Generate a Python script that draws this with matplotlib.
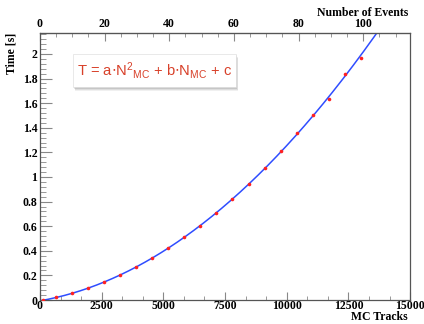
import numpy as np
import matplotlib
matplotlib.use("Agg")
import matplotlib.pyplot as plt
from matplotlib.patches import Rectangle
from matplotlib.ticker import MultipleLocator

# measured points: MC tracks vs processing time
tracks = [130, 650, 1300, 1950, 2600, 3250, 3900, 4550, 5200, 5850, 6500,
          7150, 7800, 8450, 9100, 9750, 10400, 11050, 11700, 12350, 13000]
times = [0.003, 0.022, 0.054, 0.095, 0.144, 0.203, 0.266, 0.344, 0.42, 0.51, 0.60,
         0.705, 0.82, 0.94, 1.07, 1.21, 1.36, 1.50, 1.63, 1.84, 1.97]
tracks_per_event = 131.0

coef = np.polyfit(tracks, times, 2)
xf = np.linspace(0, 14000, 300)
yf = np.polyval(coef, xf)

tickfont = dict(family="Liberation Serif", weight="bold", size=8.5)

fig = plt.figure(figsize=(4.24, 3.24), dpi=100)
ax = fig.add_axes([0.0943, 0.074, 0.873, 0.824])
ax.plot(xf, yf, color="#2f4dff", lw=1.1, zorder=2)
ax.plot(tracks, times, "o", color="#ff2020", ms=2.6, mec="none", zorder=3)

ax.set_xlim(0, 15000)
ax.set_ylim(0, 2.17)
ax.xaxis.set_major_locator(MultipleLocator(2500))
ax.xaxis.set_minor_locator(MultipleLocator(2500 / 3))
ax.yaxis.set_major_locator(MultipleLocator(0.2))
ax.yaxis.set_minor_locator(MultipleLocator(0.04))
ax.tick_params(axis="x", which="both", direction="in", top=False, color="#888888", pad=0)
ax.tick_params(axis="x", which="major", length=6)
ax.tick_params(axis="x", which="minor", length=3)
ax.tick_params(axis="y", which="both", direction="in", right=False, color="#888888", pad=2)
ax.tick_params(axis="y", which="major", length=8.5)
ax.tick_params(axis="y", which="minor", length=4.5)
ax.set_yticks(np.arange(0, 2.01, 0.2))
ax.set_yticklabels(["0", "0.2", "0.4", "0.6", "0.8", "1", "1.2", "1.4", "1.6", "1.8", "2"], **tickfont)
ax.set_xticks(np.arange(0, 15001, 2500))
ax.set_xticklabels([str(v) for v in range(0, 15001, 2500)], **tickfont)
for s in ax.spines.values():
    s.set_color("#555555")
    s.set_linewidth(0.9)

top = ax.secondary_xaxis("top", functions=(lambda x: x / tracks_per_event,
                                           lambda e: e * tracks_per_event))
top.xaxis.set_major_locator(MultipleLocator(20))
top.xaxis.set_minor_locator(MultipleLocator(5))
top.tick_params(which="both", direction="in", color="#888888", pad=2)
top.tick_params(which="major", length=6)
top.tick_params(which="minor", length=3)
top.set_xticks(range(0, 101, 20))
top.set_xticklabels([str(v) for v in range(0, 101, 20)], **tickfont)
top.spines["top"].set_color("#555555")

fig.text(0.962, 0.002, "MC Tracks", ha="right", va="bottom", **tickfont)
fig.text(0.962, 0.96, "Number of Events", ha="right", va="center", **tickfont)
fig.text(0.028, 0.898, "Time [s]", rotation=90, ha="center", va="top", **tickfont)

# formula box with a soft shadow
x0, y0, w, h = 73 / 424, 1 - 87 / 324, 163 / 424, 33 / 324
for i, a in enumerate([0.06, 0.08, 0.10, 0.12]):
    d = (4 - i) / 424
    fig.patches.append(Rectangle((x0 + d * 0.6, y0 - d * 1.3), w, h, transform=fig.transFigure,
                                 facecolor="black", alpha=a, edgecolor="none", zorder=4))
fig.patches.append(Rectangle((x0, y0), w, h, transform=fig.transFigure,
                             facecolor="white", edgecolor="#e0e0e0", lw=0.5, zorder=5))
fig.text(x0 + w / 2, y0 + h / 2,
         r"T = a$\cdot$N$\mathregular{^{2}{}_{MC}}$ + b$\cdot$N$\mathregular{_{MC}}$ + c",
         ha="center", va="center", color="#d8412a", family="Liberation Sans",
         size=10.6, zorder=6)

fig.savefig("out.png", dpi=100)
